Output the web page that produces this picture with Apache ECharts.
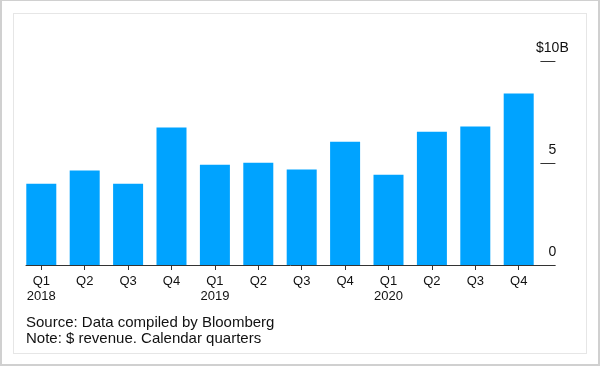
<!DOCTYPE html>
<html>
<head>
<meta charset="utf-8">
<script src="https://cdn.jsdelivr.net/npm/echarts@6/dist/echarts.min.js"></script>
<style>
html,body{margin:0;padding:0;background:#fff;}
#frame{position:absolute;left:0;top:0;width:596px;height:363px;border:2px solid #d0d0d0;border-top-width:1px;border-bottom-width:2px;}
#inner{position:absolute;left:13px;top:13px;width:572px;height:339px;border:1px solid #e6e6e6;}
#chart{position:absolute;left:0;top:0;width:600px;height:367px;}
</style>
</head>
<body>
<div id="frame"></div>
<div id="inner"></div>
<div id="chart"></div>
<script>
const quarters = ['Q1','Q2','Q3','Q4','Q1','Q2','Q3','Q4','Q1','Q2','Q3','Q4'];
const years = ['2018','','','','2019','','','','2020','','',''];
const revenue = [3.98, 4.63, 3.98, 6.74, 4.91, 5.01, 4.68, 6.04, 4.42, 6.53, 6.79, 8.41];
const yTicks = [0, 5, 10];
const sourceText = 'Source: Data compiled by Bloomberg';
const noteText = 'Note: $ revenue. Calendar quarters';

const categories = quarters.map((q, i) => years[i] ? q + '\n' + years[i] : q);
const FONT = '"Liberation Sans", Arial, Helvetica, sans-serif';

const chart = echarts.init(document.getElementById('chart'), null, {renderer: 'canvas'});
chart.setOption({
  animation: false,
  backgroundColor: 'transparent',
  title: {
    text: sourceText + '\n' + noteText,
    left: 26, top: 315, padding: 0,
    textStyle: {fontFamily: FONT, fontSize: 15, fontWeight: 'normal', color: '#111', lineHeight: 16}
  },
  grid: [
    {left: 19.6, right: 59.6, top: 61, bottom: 102},
    {left: 26, right: 45, top: 61, bottom: 102}
  ],
  xAxis: [
    {
      type: 'category', gridIndex: 0, data: categories,
      axisLine: {show: false},
      axisTick: {show: true, alignWithLabel: true, length: 5, lineStyle: {color: '#333'}},
      axisLabel: {fontFamily: FONT, fontSize: 13, color: '#111', lineHeight: 15, margin: 9, interval: 0}
    },
    {
      type: 'value', gridIndex: 1, min: 0, max: 1,
      axisLine: {show: true, lineStyle: {color: '#333', width: 1}},
      axisTick: {show: false}, axisLabel: {show: false}, splitLine: {show: false}
    }
  ],
  yAxis: [
    {
      type: 'value', gridIndex: 0, position: 'right', min: yTicks[0], max: yTicks[yTicks.length-1], interval: 5,
      axisLine: {show: false},
      axisTick: {show: true, inside: false, length: 15, lineStyle: {color: '#333'}},
      splitLine: {show: false},
      axisLabel: {
        fontFamily: FONT, fontSize: 14, color: '#111', margin: 12, align: 'center',
        verticalAlign: 'bottom', padding: [0, 0, 6, 0],
        formatter: v => v === 10 ? '$10B' : String(v)
      }
    },
    {type: 'value', gridIndex: 1, min: 0, max: 10, show: false}
  ],
  series: [{
    type: 'bar', xAxisIndex: 0, yAxisIndex: 0, data: revenue,
    barWidth: 30, itemStyle: {color: '#00a3ff'}
  }]
});
</script>
</body>
</html>
